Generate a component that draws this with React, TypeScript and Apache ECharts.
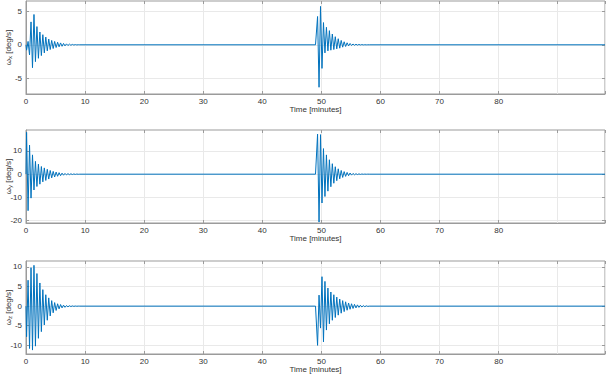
import React, { useEffect, useRef } from "react";
import * as echarts from "echarts";

// Time axis ticks (minutes)
const xTicks = [0, 10, 20, 30, 40, 50, 60, 70, 80, 90];
const xMin = 0;
const xMax = 98;

// Start time of each disturbance burst (minutes)
const burstStarts = [0, 49.0];
// Time offsets (minutes from burst start) of the read extrema
const burstOffsets = [
  0, 0.1, 0.35, 0.6, 0.85, 1.1, 1.35, 1.6, 1.85, 2.1, 2.35, 2.6, 2.85, 3.1, 3.35, 3.6, 3.85, 4.1, 4.35,
  4.6, 4.85, 5.1, 5.35, 5.6, 5.85, 6.1, 6.35, 6.6, 6.85, 7.1, 7.35, 7.6, 7.85, 8.1, 8.35, 8.6, 8.85, 9.1,
];

// omega_x [deg/s]
const wxBurst1 = [
  0, -0.8, 0.5, -1.5, 3.4, -3.4, 4.5, -2.5, 2.7, -2.0, 1.9, -1.6, 1.5, -1.2, 1.15, -0.9, 0.85, -0.7, 0.65,
  -0.55, 0.5, -0.4, 0.38, -0.3, 0.28, -0.22, 0.2, -0.16, 0.14, -0.11, 0.1, -0.07, 0.06, -0.04, 0.03, -0.02, 0.01, 0,
];
const wxBurst2 = [
  0, 0, 4.2, -6.3, 5.7, -3.5, 3.3, -1.2, 2.6, -0.9, 2.1, -0.8, 1.6, -0.7, 1.2, -0.6, 0.9, -0.5, 0.65,
  -0.35, 0.45, -0.25, 0.3, -0.16, 0.2, -0.1, 0.12, -0.07, 0.08, -0.05, 0.05, -0.03, 0.03, -0.02, 0.01, -0.01, 0, 0,
];
// omega_y [deg/s]
const wyBurst1 = [
  0, 18.0, -15.7, 12.5, -10.3, 8.3, -6.8, 5.5, -5.3, 4.3, -4.3, 3.3, -3.3, 2.7, -2.7, 2.1, -2.1, 1.6, -1.6,
  1.2, -1.2, 0.9, -0.9, 0.65, -0.65, 0.45, -0.45, 0.32, -0.32, 0.22, -0.22, 0.15, -0.15, 0.1, -0.1, 0.06, -0.05, 0,
];
const wyBurst2 = [
  0, 0, 17.2, -20.6, 17.0, -12.4, 11.0, -9.6, 8.3, -7.3, 6.2, -5.4, 4.5, -3.9, 3.2, -2.8, 2.3, -2.0, 1.6,
  -1.4, 1.1, -0.95, 0.75, -0.65, 0.5, -0.42, 0.32, -0.27, 0.2, -0.17, 0.12, -0.1, 0.07, -0.05, 0.04, -0.03, 0.02, 0,
];
// omega_z [deg/s]
const wzBurst1 = [
  0, -7.8, 6.6, -10.8, 9.8, -11.2, 10.4, -10.2, 8.3, -8.2, 5.9, -6.5, 4.2, -4.8, 2.9, -3.6, 2.1, -2.5, 1.4,
  -1.7, 0.9, -1.1, 0.6, -0.7, 0.4, -0.45, 0.25, -0.3, 0.15, -0.18, 0.1, -0.1, 0.06, -0.06, 0.03, -0.03, 0.01, 0,
];
const wzBurst2 = [
  0, 0, -10.0, 2.8, -5.6, 7.5, -9.1, 6.3, -6.1, 4.6, -4.5, 3.6, -3.6, 2.9, -2.9, 2.3, -2.3, 1.8, -1.8,
  1.4, -1.4, 1.1, -1.05, 0.8, -0.8, 0.6, -0.6, 0.45, -0.45, 0.32, -0.32, 0.22, -0.22, 0.14, -0.14, 0.08, -0.06, 0,
];

// Axis ranges and tick labels per subplot
const yRanges = [
  [-7.3, 6.5],
  [-21, 19],
  [-12.2, 11.5],
];
const yTicks = [
  [-5, 0, 5],
  [-20, -10, 0, 10],
  [-10, -5, 0, 5, 10],
];
const ySubs = ["x", "y", "z"];
const xName = "Time [minutes]";

const bursts = [
  [wxBurst1, wxBurst2],
  [wyBurst1, wyBurst2],
  [wzBurst1, wzBurst2],
];

function buildSeries(parts: number[][]) {
  const pts: number[][] = [];
  parts.forEach((vals, b) => {
    vals.forEach((v, i) => pts.push([burstStarts[b] + burstOffsets[i], v]));
  });
  pts.push([xMax, 0]);
  return pts;
}

const FONT = "'Liberation Sans', Arial, sans-serif";
const TEXT = "#333333";
const BOX = "#9b9b9b";
const GRIDLINE = "#e9e9e9";
const LINE = "#0072BD";

const gridTops = [1, 130, 261];
const gridHeight = 93;

export default function App() {
  const ref = useRef<HTMLDivElement>(null);
  useEffect(() => {
    if (!ref.current) return;
    const chart = echarts.init(ref.current, undefined, { renderer: "svg" });
    const grids = gridTops.map((t) => ({
      left: 26,
      right: 1,
      top: t,
      height: gridHeight,
      containLabel: false,
      outerBoundsMode: "none",
      show: true,
      borderColor: BOX,
      borderWidth: 1,
      backgroundColor: "#ffffff",
    }));
    const xAxes: any[] = [];
    const yAxes: any[] = [];
    for (let i = 0; i < 3; i++) {
      xAxes.push({
        type: "value",
        gridIndex: i,
        position: "bottom",
        min: xMin,
        max: xMax,
        interval: 10,
        name: xName,
        nameLocation: "middle",
        nameGap: 11,
        nameMoveOverlap: false,
        nameTextStyle: { fontSize: 8, color: TEXT, fontFamily: FONT },
        axisLine: { show: true, onZero: false, lineStyle: { color: BOX } },
        axisTick: { show: true, inside: true, length: 3, lineStyle: { color: BOX } },
        axisLabel: {
          fontSize: 8,
          color: TEXT,
          fontFamily: FONT,
          margin: 3,
          showMaxLabel: false,
          customValues: xTicks,
        },
        splitLine: { show: true, lineStyle: { color: GRIDLINE, width: 1 } },
      });
      yAxes.push({
        type: "value",
        gridIndex: i,
        position: "left",
        min: yRanges[i][0],
        max: yRanges[i][1],
        name: `{w|ω}{s|${ySubs[i]}}{w| [deg/s]}`,
        nameLocation: "middle",
        nameRotate: 90,
        nameGap: 13,
        nameMoveOverlap: false,
        nameTextStyle: {
          color: TEXT,
          fontFamily: FONT,
          rich: {
            w: { fontSize: 8, color: TEXT, fontFamily: FONT, lineHeight: 10 },
            s: { fontSize: 6, color: TEXT, fontFamily: FONT, lineHeight: 6, verticalAlign: "bottom" },
          },
        },
        axisLine: { show: true, onZero: false, lineStyle: { color: BOX } },
        axisTick: { show: true, inside: true, length: 3, lineStyle: { color: BOX }, customValues: yTicks[i] },
        axisLabel: { fontSize: 8, color: TEXT, fontFamily: FONT, margin: 4, customValues: yTicks[i] },
        splitLine: { show: true, lineStyle: { color: GRIDLINE, width: 1 } },
      });
    }
    for (let i = 0; i < 3; i++) {
      xAxes.push({
        type: "value",
        gridIndex: i,
        position: "top",
        min: xMin,
        max: xMax,
        interval: 10,
        axisLine: { show: false, onZero: false },
        axisTick: { show: true, inside: true, length: 3, lineStyle: { color: BOX } },
        axisLabel: { show: false },
        splitLine: { show: false },
      });
      yAxes.push({
        type: "value",
        gridIndex: i,
        position: "right",
        min: yRanges[i][0],
        max: yRanges[i][1],
        axisLine: { show: false, onZero: false },
        axisTick: { show: true, inside: true, length: 3, lineStyle: { color: BOX }, customValues: yTicks[i] },
        axisLabel: { show: false, customValues: yTicks[i] },
        splitLine: { show: false },
      });
    }
    const series = bursts.map((parts, i) => ({
      type: "line",
      xAxisIndex: i,
      yAxisIndex: i,
      data: buildSeries(parts),
      showSymbol: false,
      symbol: "none",
      clip: true,
      lineStyle: { color: LINE, width: 1 },
      z: 3,
    }));
    chart.setOption({
      animation: false,
      backgroundColor: "#ffffff",
      textStyle: { fontFamily: FONT },
      grid: grids,
      xAxis: xAxes,
      yAxis: yAxes,
      series,
    });
    return () => chart.dispose();
  }, []);
  return (
    <div
      ref={ref}
      style={{ position: "absolute", left: 0, top: 0, width: 606, height: 376 }}
    />
  );
}
